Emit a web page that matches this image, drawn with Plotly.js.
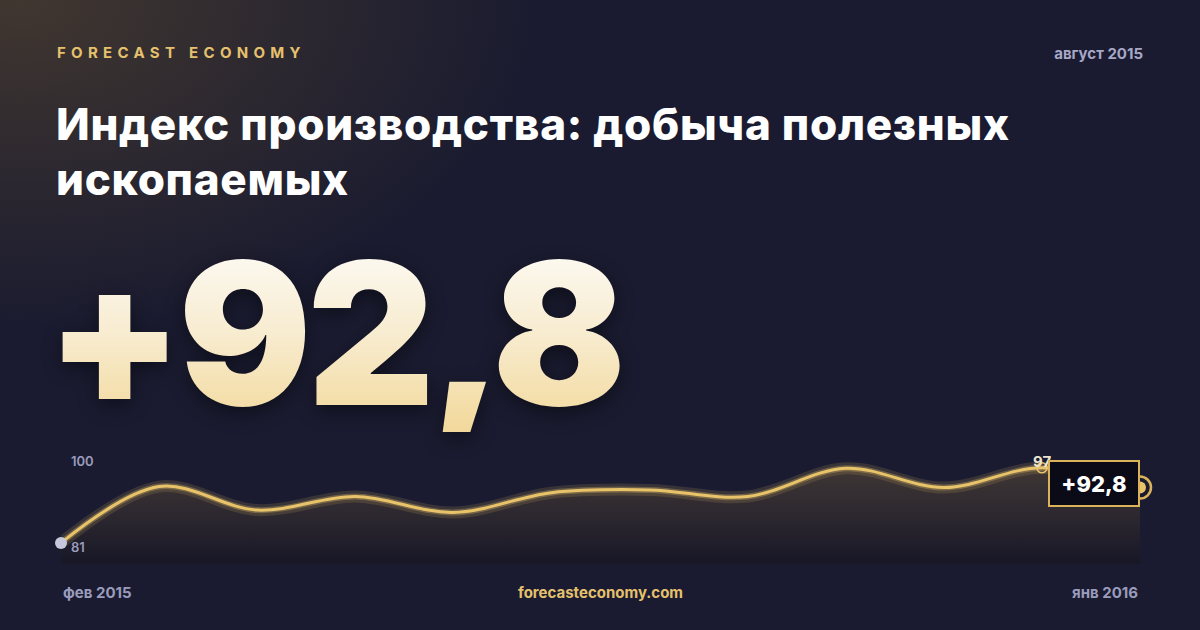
<!DOCTYPE html>
<html>
<head>
<meta charset="utf-8">
<script src="https://cdn.plot.ly/plotly-3.0.1.min.js"></script>
<style>
    html, body { margin: 0; padding: 0; }
    body
    {
        width: 1200px;
        height: 630px;
        overflow: hidden;
        position: relative;
        font-family: Inter, "Noto Sans", sans-serif;
        background:
            radial-gradient(ellipse 520px 330px at 20px 0px, rgba(78, 64, 48, 0.75), rgba(60, 50, 50, 0) 100%),
            #1a1b30;
    }
    .brand
    {
        position: absolute; left: 57px; top: 45px;
        font-size: 15px; line-height: 15px; font-weight: 700;
        letter-spacing: 5.3px; color: #e5c16d;
    }
    .date
    {
        position: absolute; right: 57px; top: 46px;
        font-size: 15px; line-height: 15px; font-weight: 700;
        color: #a6a8c6;
    }
    .title
    {
        position: absolute; left: 56px; top: 97px; width: 1050px;
        font-size: 44px; line-height: 55px; font-weight: 800;
        color: #ffffff; letter-spacing: 0.7px;
    }
    .big
    {
        position: absolute; left: 46px; top: 234px;
        font-size: 198px; line-height: 198px; font-weight: 900;
        letter-spacing: -5px;
        background: linear-gradient(180deg, #fdfcf8 0%, #f8ecd0 50%, #f2d89a 100%);
        -webkit-background-clip: text; background-clip: text;
        color: transparent;
        filter: drop-shadow(0 6px 10px rgba(0, 0, 0, 0.45));
    }
    #chart { position: absolute; left: 0; top: 0; width: 1200px; height: 630px; }
</style>
</head>
<body>
<div id="chart"></div>
<div class="brand">FORECAST ECONOMY</div>
<div class="date">август 2015</div>
<div class="title">Индекс производства: добыча полезных ископаемых</div>
<div class="big" id="big"></div>
<script>
// monthly index, feb 2015 .. jan 2016
var months = ["фев 2015", "мар 2015", "апр 2015", "май 2015", "июн 2015", "июл 2015",
              "авг 2015", "сен 2015", "окт 2015", "ноя 2015", "дек 2015", "янв 2016"];
var values = [81.0, 93.0, 88.0, 90.9, 87.5, 91.7, 92.3, 90.9, 96.9, 92.8, 97.0, 92.8];
var yTopLabel = 100;
var siteLabel = "forecasteconomy.com";

var gold = "#e8c36a";
var yRange = [76.5, 100.8];

function fmt(v)
{
    return v.toFixed(1).replace(".", ",");
}

var last = values.length - 1;
var lastValue = values[last];
var minValue = Math.min.apply(null, values);
var maxValue = Math.max.apply(null, values);
var minIndex = values.indexOf(minValue);
var maxIndex = values.lastIndexOf(maxValue);

document.getElementById("big").textContent = "+" + fmt(lastValue);

var fillTrace =
{
    x: months,
    y: values,
    mode: "lines",
    type: "scatter",
    line: { shape: "spline", smoothing: 1, width: 0, color: "rgba(0,0,0,0)" },
    fill: "tozeroy",
    fillgradient:
    {
        type: "vertical",
        start: yRange[0],
        stop: maxValue,
        colorscale: [[0, "rgba(20, 19, 30, 0.55)"], [0.6, "rgba(70, 58, 50, 0.5)"], [1, "rgba(95, 78, 55, 0.55)"]]
    },
    hoverinfo: "skip"
};

var glowTrace =
{
    x: months,
    y: values,
    mode: "lines",
    type: "scatter",
    line: { shape: "spline", smoothing: 1, width: 12, color: "rgba(232, 195, 106, 0.14)" },
    hoverinfo: "skip"
};

var glowTrace2 =
{
    x: months,
    y: values,
    mode: "lines",
    type: "scatter",
    line: { shape: "spline", smoothing: 1, width: 6, color: "rgba(232, 195, 106, 0.3)" },
    hoverinfo: "skip"
};

var lineTrace =
{
    x: months,
    y: values,
    mode: "lines",
    type: "scatter",
    line: { shape: "spline", smoothing: 1, width: 3, color: gold }
};

var startTrace =
{
    x: [months[minIndex]],
    y: [minValue],
    mode: "markers",
    type: "scatter",
    cliponaxis: false,
    marker: { size: 12, color: "#c6c9de" }
};

var maxTrace =
{
    x: [months[maxIndex]],
    y: [maxValue],
    mode: "markers",
    type: "scatter",
    cliponaxis: false,
    marker: { size: 10, symbol: "circle-open", color: gold, line: { width: 1.5, color: gold } }
};

var endRingTrace =
{
    x: [months[last]],
    y: [lastValue],
    mode: "markers",
    type: "scatter",
    cliponaxis: false,
    marker: { size: 22, symbol: "circle-open", color: "#d9b25a", line: { width: 2.5, color: "#d9b25a" } }
};

var endDotTrace =
{
    x: [months[last]],
    y: [lastValue],
    mode: "markers",
    type: "scatter",
    cliponaxis: false,
    marker: { size: 12, color: gold }
};

var labelFont = { family: "Inter, sans-serif", size: 13, color: "#9a9cbc", weight: 600 };
var footFont = { family: "Inter, sans-serif", size: 15, color: "#9a9cbc", weight: 700 };

var annotations =
[
    {
        x: months[0], y: yTopLabel, text: String(yTopLabel),
        xanchor: "left", yanchor: "middle", xshift: 8, yshift: -7,
        showarrow: false, font: labelFont
    },
    {
        x: months[minIndex], y: minValue, text: String(Math.round(minValue)),
        xanchor: "left", yanchor: "middle", xshift: 8, yshift: -4,
        showarrow: false, font: labelFont
    },
    {
        x: months[maxIndex], y: maxValue, text: String(Math.round(maxValue)),
        xanchor: "center", yanchor: "middle", yshift: 6,
        showarrow: false,
        font: { family: "Inter, sans-serif", size: 15, color: "#ece4cf", weight: 700 }
    },
    {
        x: months[last], y: lastValue, text: "+" + fmt(lastValue),
        xanchor: "right", yanchor: "middle", xshift: 0, yshift: 4,
        width: 72, height: 27,
        showarrow: false,
        bgcolor: "#0b0b17", bordercolor: "#d9b25a", borderwidth: 2, borderpad: 8,
        font: { family: "Inter, sans-serif", size: 22, color: "#ffffff", weight: 800 }
    },
    {
        x: months[0], y: 0, yref: "paper", text: months[0],
        xanchor: "left", yanchor: "middle", yshift: -28, xshift: 0,
        showarrow: false, font: footFont
    },
    {
        x: months[last], y: 0, yref: "paper", text: months[last],
        xanchor: "right", yanchor: "middle", yshift: -28, xshift: 0,
        showarrow: false, font: footFont
    },
    {
        x: 0.5, xref: "paper", y: 0, yref: "paper", text: siteLabel,
        xanchor: "center", yanchor: "middle", yshift: -28,
        showarrow: false, font: { family: "Inter, sans-serif", size: 15, color: "#e5c16d", weight: 700 }
    }
];

var layout =
{
    width: 1200,
    height: 630,
    margin: { l: 61, r: 60, t: 450, b: 66 },
    paper_bgcolor: "rgba(0,0,0,0)",
    plot_bgcolor: "rgba(0,0,0,0)",
    showlegend: false,
    xaxis:
    {
        type: "category",
        range: [0, last],
        showgrid: false, zeroline: false, showticklabels: false, showline: false
    },
    yaxis:
    {
        range: yRange,
        showgrid: false, zeroline: false, showticklabels: false, showline: false
    },
    annotations: annotations
};

Plotly.newPlot("chart",
    [fillTrace, glowTrace, glowTrace2, lineTrace, startTrace, maxTrace, endRingTrace, endDotTrace],
    layout,
    { staticPlot: true });
</script>
</body>
</html>
